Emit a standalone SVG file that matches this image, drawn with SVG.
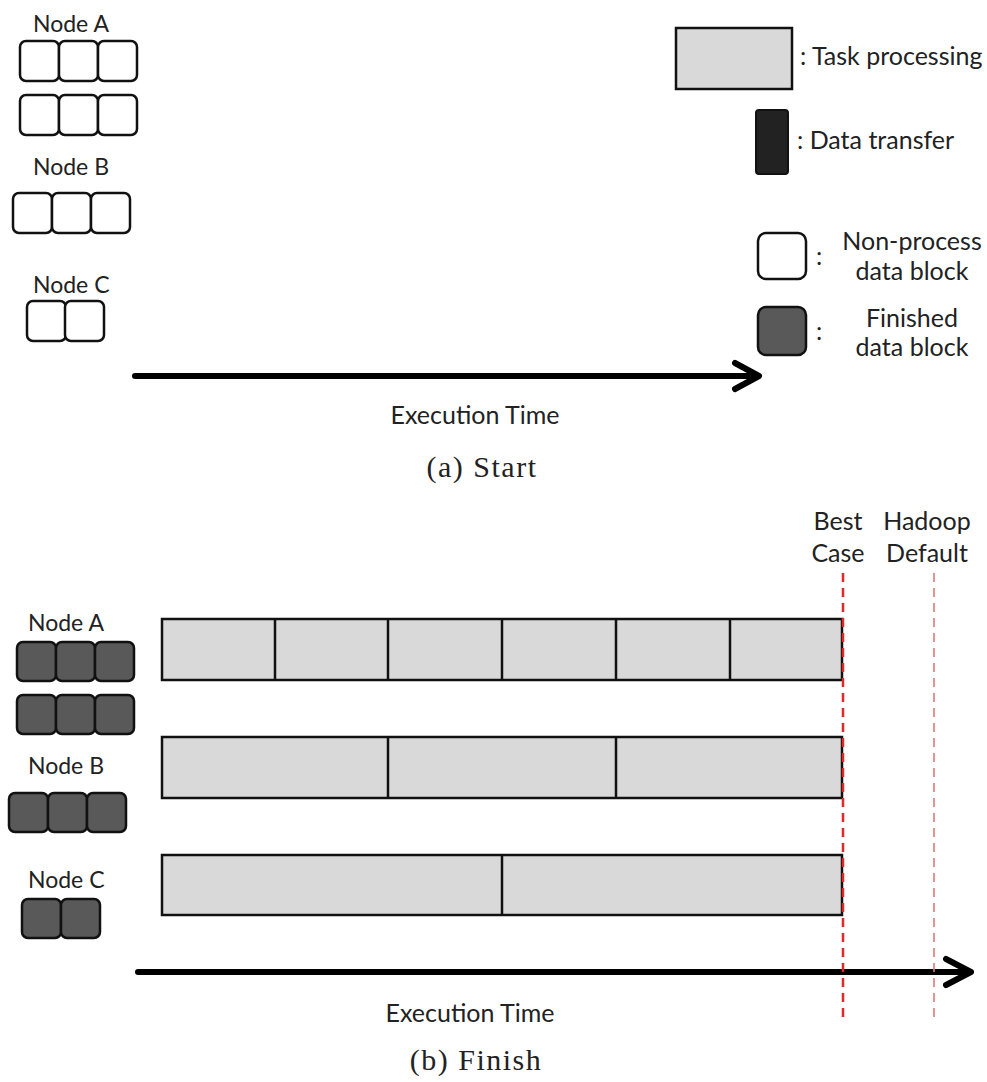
<svg xmlns="http://www.w3.org/2000/svg" width="987" height="1082" viewBox="0 0 987 1082">
<style>
.lbl{font-family:Lato,"Liberation Sans",sans-serif;font-size:23px;fill:#222}
.txt{font-family:Lato,"Liberation Sans",sans-serif;font-size:25px;fill:#222}
.cap{font-family:"Liberation Serif",serif;font-size:30px;letter-spacing:1.5px;fill:#222}
.blk{fill:#fff;stroke:#111;stroke-width:2.5}
.fin{fill:#595959;stroke:#111;stroke-width:2.5}
.task{fill:#d9d9d9;stroke:#111;stroke-width:2.5}
.div{stroke:#111;stroke-width:2.5}
.axis{stroke:#000;stroke-width:6;fill:none;stroke-linecap:round;stroke-linejoin:round}
.best{stroke:#e02828;stroke-width:2.5;stroke-dasharray:9 6;fill:none}
.hd{stroke:#e07878;stroke-width:1.6;stroke-dasharray:9 6;fill:none}
</style>
<defs>
<rect id="wb" width="39" height="40" rx="6" class="blk"/>
<rect id="db" width="39" height="39" rx="6" class="fin"/>
</defs>
<rect width="987" height="1082" fill="#fff"/>

<!-- (a) Start -->
<g id="startA">
<text class="lbl" x="33" y="32">Node A</text>
<use href="#wb" x="20" y="41"/><use href="#wb" x="59" y="41"/><use href="#wb" x="98" y="41"/>
<use href="#wb" x="20" y="95"/><use href="#wb" x="59" y="95"/><use href="#wb" x="98" y="95"/>
</g>
<g id="startB">
<text class="lbl" x="33" y="175">Node B</text>
<use href="#wb" x="13" y="193"/><use href="#wb" x="52" y="193"/><use href="#wb" x="91" y="193"/>
</g>
<g id="startC">
<text class="lbl" x="33" y="293">Node C</text>
<use href="#wb" x="27" y="301"/><use href="#wb" x="65" y="301"/>
</g>

<g id="legend">
<rect x="676" y="28" width="116" height="61" class="task"/>
<text class="txt" x="800" y="65">: Task processing</text>
<rect x="756" y="110" width="32" height="64" rx="3" fill="#222" stroke="#111" stroke-width="2"/>
<text class="txt" x="797" y="149">: Data transfer</text>
<rect x="758" y="233" width="48" height="46" rx="8" class="blk"/>
<text class="txt" x="816" y="265">:</text>
<text class="txt" x="912" y="250" text-anchor="middle">Non-process</text>
<text class="txt" x="912" y="280" text-anchor="middle">data block</text>
<rect x="758" y="307" width="48" height="48" rx="8" class="fin"/>
<text class="txt" x="816" y="340">:</text>
<text class="txt" x="912" y="327" text-anchor="middle">Finished</text>
<text class="txt" x="912" y="356" text-anchor="middle">data block</text>
</g>

<g id="axisA">
<path class="axis" d="M135 376 H757 M735 363 L759 376 L735 389"/>
<text class="txt" x="475" y="424" text-anchor="middle">Execution  Time</text>
<text class="cap" x="482" y="477" text-anchor="middle">(a) Start</text>
</g>

<!-- (b) Finish -->
<g id="finishA">
<text class="lbl" x="28" y="631">Node A</text>
<use href="#db" x="17" y="642"/><use href="#db" x="56" y="642"/><use href="#db" x="95" y="642"/>
<use href="#db" x="17" y="695"/><use href="#db" x="56" y="695"/><use href="#db" x="95" y="695"/>
</g>
<g id="finishB">
<text class="lbl" x="28" y="774">Node B</text>
<use href="#db" x="9" y="793"/><use href="#db" x="48" y="793"/><use href="#db" x="87" y="793"/>
</g>
<g id="finishC">
<text class="lbl" x="28" y="888">Node C</text>
<use href="#db" x="22" y="899"/><use href="#db" x="61" y="899"/>
</g>

<g id="tasksA">
<rect x="162" y="619" width="680" height="61" class="task"/>
<path class="div" d="M275 619V680M388 619V680M502 619V680M616 619V680M730 619V680"/>
</g>
<g id="tasksB">
<rect x="162" y="737" width="680" height="61" class="task"/>
<path class="div" d="M388 737V798M616 737V798"/>
</g>
<g id="tasksC">
<rect x="162" y="855" width="680" height="60" class="task"/>
<path class="div" d="M502 855V915"/>
</g>

<g id="connectors">
<path class="axis" d="M138 972 H969 M946 959 L971 972 L946 985"/>
<line class="best" x1="843" y1="573" x2="843" y2="1017"/>
<line class="hd" x1="934" y1="573" x2="934" y2="1017"/>
</g>

<g id="markers">
<text class="txt" x="838" y="530" text-anchor="middle">Best</text>
<text class="txt" x="838" y="562" text-anchor="middle">Case</text>
<text class="txt" x="927" y="530" text-anchor="middle">Hadoop</text>
<text class="txt" x="927" y="562" text-anchor="middle">Default</text>
<text class="txt" x="470" y="1022" text-anchor="middle">Execution  Time</text>
<text class="cap" x="476" y="1070" text-anchor="middle">(b) Finish</text>
</g>
</svg>
